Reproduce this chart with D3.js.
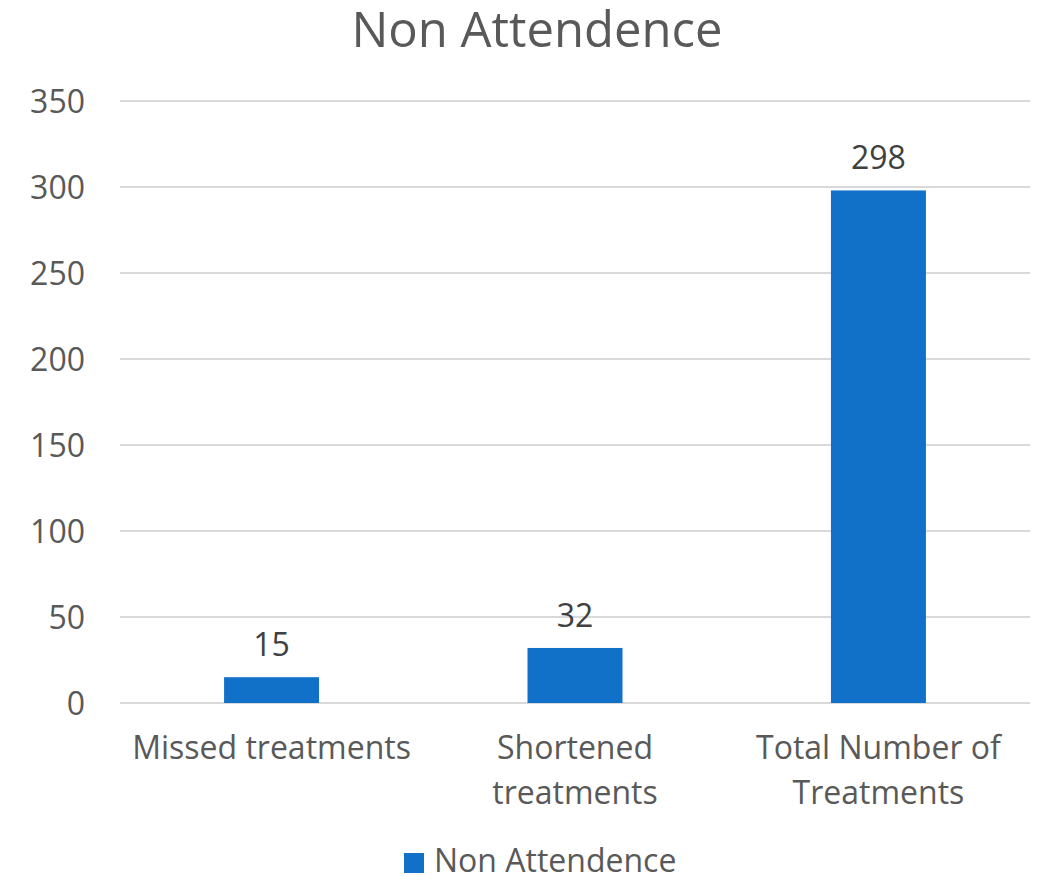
<!DOCTYPE html>
<html lang="en">
<head>
    <meta charset="UTF-8">
    <title>Non Attendence</title>
    <script src="https://d3js.org/d3.v7.min.js"></script>
    <style>
        body { margin: 0; background: #fff; }
        text { font-family: "Open Sans", "Noto Sans", sans-serif; fill: #595959; }
    </style>
</head>
<body>
    <svg id="chart"></svg>

    <script>
        const categories = ["Missed treatments", "Shortened treatments", "Total Number of Treatments"];
        const catLines = [["Missed treatments"], ["Shortened", "treatments"], ["Total Number of", "Treatments"]];
        const values = [15, 32, 298];
        const yTicks = [0, 50, 100, 150, 200, 250, 300, 350];
        const seriesName = "Non Attendence";

        const width = 1038;
        const height = 876;
        const margin = { top: 101, right: 8, bottom: 172, left: 120 };
        const barColor = "#1170c8";
        const fontSize = "32px";

        const svg = d3.select("#chart")
            .attr("width", width)
            .attr("height", height);

        const x = d3.scaleBand()
            .domain(categories)
            .range([margin.left, width - margin.right])
            .paddingInner(0.687)
            .paddingOuter(0.343);

        const y = d3.scaleLinear()
            .domain([0, 350])
            .range([height - margin.bottom - 1, margin.top]);

        // gridlines
        svg.append("g")
            .selectAll("line")
            .data(yTicks)
            .enter()
            .append("line")
            .attr("x1", margin.left)
            .attr("x2", width - margin.right)
            .attr("y1", d => y(d))
            .attr("y2", d => y(d))
            .attr("stroke", "#d9d9d9")
            .attr("stroke-width", 2);

        // y tick labels
        svg.append("g")
            .selectAll("text")
            .data(yTicks)
            .enter()
            .append("text")
            .attr("x", 85)
            .attr("y", d => y(d))
            .attr("dy", "0.36em")
            .attr("text-anchor", "end")
            .style("font-size", fontSize)
            .text(d => d);

        // bars
        svg.append("g")
            .selectAll("rect")
            .data(values)
            .enter()
            .append("rect")
            .attr("x", (d, i) => x(categories[i]))
            .attr("width", x.bandwidth())
            .attr("y", d => y(d))
            .attr("height", d => y(0) - y(d))
            .attr("fill", barColor);

        // data labels
        svg.append("g")
            .selectAll("text")
            .data(values)
            .enter()
            .append("text")
            .attr("x", (d, i) => x(categories[i]) + x.bandwidth() / 2)
            .attr("y", d => y(d) - 21)
            .attr("text-anchor", "middle")
            .style("font-size", fontSize)
            .style("fill", "#404040")
            .text(d => d);

        // category labels
        const catG = svg.append("g")
            .selectAll("text")
            .data(catLines)
            .enter()
            .append("text")
            .attr("x", (d, i) => x(categories[i]) + x.bandwidth() / 2)
            .attr("y", 759)
            .attr("text-anchor", "middle")
            .style("font-size", fontSize);

        catG.selectAll("tspan")
            .data(d => d)
            .enter()
            .append("tspan")
            .attr("x", function () { return d3.select(this.parentNode).attr("x"); })
            .attr("dy", (d, i) => i === 0 ? 0 : 45)
            .text(d => d);

        // title
        svg.append("text")
            .attr("x", width / 2 + 18)
            .attr("y", 47)
            .attr("text-anchor", "middle")
            .style("font-size", "49px")
            .text("Non Attendence");

        // legend
        const legend = svg.append("g");
        legend.append("rect")
            .attr("x", 404)
            .attr("y", 853)
            .attr("width", 20)
            .attr("height", 20)
            .attr("fill", barColor);
        legend.append("text")
            .attr("x", 434)
            .attr("y", 872)
            .style("font-size", fontSize)
            .text(seriesName);
    </script>
</body>
</html>
